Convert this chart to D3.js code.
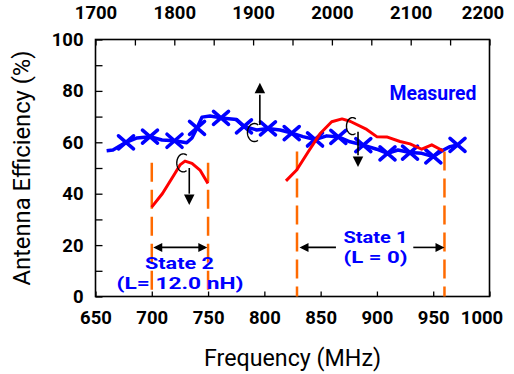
<!DOCTYPE html>
<html><head><meta charset="utf-8">
<script src="https://cdn.jsdelivr.net/npm/d3@7"></script>
<style>
body{margin:0;background:#fff}
svg{display:block}
text{font-family:Roboto,"DejaVu Sans",sans-serif}
</style>
</head><body>
<svg id="c" width="514" height="374"></svg>
<script>
// ---------- data ----------
const measuredFreq = [659.9,665.5,677.1,686.9,698.4,709.1,720.2,731.0,735.7,740.2,744.6,751.7,761.5,775.4,781.9,793.2,803.2,813.9,824.3,834.3,845.0,855.4,865.7,876.1,887.9,899.8,909.4,918.7,929.4,939.8,950.1,959.0,964.9,971.6];
const measuredEff  = [56.7,57.0,60.0,61.7,62.2,60.9,60.6,59.8,61.7,65.6,69.8,70.2,69.5,68.9,66.2,64.8,65.4,64.8,63.6,62.2,61.1,62.5,62.1,60.2,58.9,57.3,55.7,57.0,56.0,55.7,54.5,57.0,58.3,59.0];
const markerFreq = [677.1,698.4,720.2,740.2,761.5,781.9,803.2,824.3,845.0,865.7,887.9,909.4,929.4,950.1,971.6];
const markerEff  = [60.0,62.2,60.6,65.6,69.5,66.2,65.4,63.6,61.1,62.1,58.9,55.7,56.0,54.5,59.0];
const state1Freq = [819.2,828.7,839.0,849.4,859.8,869.0,876.1,890.9,899.8,908.7,920.5,929.4,939.8,948.7,959.0];
const state1Eff  = [45.0,49.2,56.3,63.3,68.0,69.1,68.2,65.0,62.2,62.1,60.3,59.4,57.3,59.0,56.6];
const state2Freq = [699.9,709.5,719.7,725.1,729.5,735.7,742.8,749.9];
const state2Eff  = [34.8,40.1,47.3,51.2,52.7,51.8,49.2,44.0];
const bandEdges   = [700,750,829,960];
const bandEdgeTop = [52,52,56.4,56.4];
const bottomTicks = [650,700,750,800,850,900,950,1000];
const topTicks    = [1700,1750,1800,1850,1900,1950,2000,2050,2100,2150,2200];
const topLabels   = [1700,1800,1900,2000,2100,2200];
const yTicks      = [0,10,20,30,40,50,60,70,80,90,100];
const yLabels     = [0,20,40,60,80,100];

// ---------- scales ----------
const svg = d3.select("#c");
const x = d3.scaleLinear().domain([650,1000]).range([95.5,489.5]);
const xTop = d3.scaleLinear().domain([1700,2200]).range([95.5,489.5]);
const y = d3.scaleLinear().domain([0,100]).range([296.5,39.5]);

const BLUE="#0000ff", RED="#ff0000", ORANGE="#ff6a00";

// ---------- axes ----------
const tickFont = g => g.selectAll("text").attr("font-size",18.5).attr("font-weight",700).attr("fill","#000");
const ax = svg.append("g").attr("transform",`translate(0,${y(0)})`)
  .call(d3.axisBottom(x).tickValues(bottomTicks).tickSize(-5).tickPadding(14).tickFormat(d3.format("d")));
ax.call(tickFont);
ax.selectAll("text").filter(d=>d===1000).attr("dx",-8);
const at = svg.append("g").attr("transform",`translate(0,${y(100)})`)
  .call(d3.axisTop(xTop).tickValues(topTicks).tickSize(-6).tickPadding(21).tickFormat(d=>topLabels.includes(d)?d:""));
at.call(tickFont);
at.selectAll("text").filter(d=>d===2200).attr("dx",-7);
const ay = svg.append("g").attr("transform",`translate(${x(650)},0)`)
  .call(d3.axisLeft(y).tickValues(yTicks).tickSize(-7).tickPadding(12).tickFormat(d=>yLabels.includes(d)?d:""));
ay.call(tickFont);
[ax,at,ay].forEach(g=>{g.select(".domain").remove(); g.selectAll("line").attr("stroke","#000").attr("stroke-width",1.3);});

// frame
svg.append("rect").attr("x",x(650)).attr("y",y(100)).attr("width",x(1000)-x(650)).attr("height",y(0)-y(100))
  .attr("fill","none").attr("stroke","#000").attr("stroke-width",1.6);

// ---------- band edges ----------
svg.append("g").selectAll("line").data(bandEdges).join("line")
  .attr("x1",d=>x(d)).attr("x2",d=>x(d))
  .attr("y1",(d,i)=>y(bandEdgeTop[i])).attr("y2",y(0))
  .attr("stroke",ORANGE).attr("stroke-width",2.5).attr("stroke-dasharray","19,8");

// ---------- lines ----------
const line = d3.line().x(d=>x(d[0])).y(d=>y(d[1]));
svg.append("path").datum(measuredFreq.map((f,i)=>[f,measuredEff[i]]))
  .attr("d",line).attr("fill","none").attr("stroke",BLUE).attr("stroke-width",3.5).attr("stroke-linejoin","round");
svg.append("g").selectAll("path").data(markerFreq.map((f,i)=>[f,markerEff[i]])).join("path")
  .attr("transform",d=>`translate(${x(d[0])},${y(d[1])})`)
  .attr("d","M-7.5,-6.5L7.5,6.5M-7.5,6.5L7.5,-6.5").attr("stroke",BLUE).attr("stroke-width",3.6).attr("stroke-linecap","round");
[[state1Freq,state1Eff],[state2Freq,state2Eff]].forEach(([F,E])=>{
  svg.append("path").datum(F.map((f,i)=>[f,E[i]])).attr("d",line)
    .attr("fill","none").attr("stroke",RED).attr("stroke-width",3).attr("stroke-linejoin","round");
});

// ---------- annotations ----------
function head(px,py,dir,len=10.5,w=10.5){
  const [dx,dy]=dir, nx=-dy, ny=dx;
  const bx=px-dx*len, by=py-dy*len;
  svg.append("path").attr("d",`M${px},${py}L${bx+nx*w/2},${by+ny*w/2}L${bx-nx*w/2},${by-ny*w/2}Z`).attr("fill","#000");
}
function shaft(x1,y1,x2,y2){
  svg.append("line").attr("x1",x1).attr("y1",y1).attr("x2",x2).attr("y2",y2).attr("stroke","#000").attr("stroke-width",1.6);
}
function curl(cx,cy,rx,ry){
  const a0=-1.0, a1=1.05;
  const pts=d3.range(0,61).map(i=>{const a=a0-(i/60)*(2*Math.PI-(a1-a0)); return [cx+rx*Math.cos(a),cy+ry*Math.sin(a)];});
  svg.append("path").attr("d",d3.line()(pts)).attr("fill","none").attr("stroke","#000").attr("stroke-width",1.4);
}
shaft(x(796),y(66.7),x(796),y(78.5)); head(x(796),y(83.2),[0,-1]);
curl(x(791.2),y(63.8),7,9);
shaft(x(883.2),y(64.1),x(883.2),y(55)); head(x(883.2),y(50.4),[0,1]);
curl(x(878.3),y(66.3),6,8.5);
shaft(x(733.3),y(50),x(733.3),y(40)); head(x(733.3),y(35.6),[0,1]);
curl(x(728),y(52),6.5,9);
shaft(x(704),y(19.1),x(747),y(19.1)); head(x(701.3),y(19.1),[-1,0],9,9); head(x(749.3),y(19.1),[1,0],9,9);
shaft(x(834),y(19.1),x(863.6),y(19.1)); head(x(831.2),y(19.1),[-1,0],9,9);
shaft(x(932.3),y(19.1),x(957),y(19.1)); head(x(960),y(19.1),[1,0],9,9);

function label(txt,xx,yy,w,opts={}){
  const t=svg.append("text").attr("x",xx).attr("y",yy).attr("text-anchor","middle")
    .attr("font-size",opts.size||22).attr("font-weight",opts.weight||700).attr("fill",opts.fill||BLUE).text(txt);
  if(opts.rotate) t.attr("transform",`rotate(-90,${xx},${yy})`);
  if(w) t.attr("textLength",w).attr("lengthAdjust","spacingAndGlyphs");
  return t;
}
label("Measured",x(949.8),y(76.5),87,{size:21});
label("State 2",x(724.6),y(10.6),69,{size:16.5});
label("(L= 12.0 nH)",x(725.1),y(3.0),127,{size:16.5});
label("State 1",x(898.7),y(20.9),64,{size:16.5});
label("(L = 0)",x(898.7),y(13.0),64,{size:16.5});

label("Frequency (MHz)",(x(650)+x(1000))/2,366,177,{size:23,weight:400,fill:"#000"});
label("Antenna Efficiency (%)",29.5,(y(0)+y(100))/2,235,{size:23,weight:400,fill:"#000",rotate:true});
</script>
</body></html>
